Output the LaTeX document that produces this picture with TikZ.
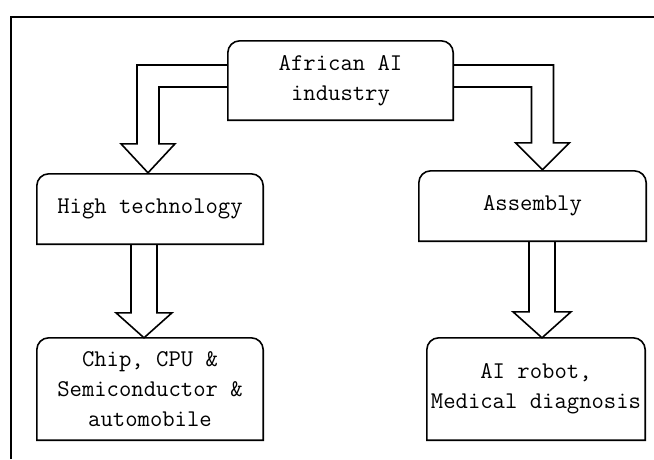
\documentclass[tikz,border=0pt]{standalone}
\usetikzlibrary{calc}
\begin{document}
\begin{tikzpicture}[x=1pt,y=-1pt,
  box/.style={inner sep=0pt, minimum width=#1, align=center,
    font=\ttfamily\fontsize{24}{30}\selectfont},
  ln/.style={line width=1.6pt, line join=miter},
  topround/.style={ln}]
\useasboundingbox (0,0) rectangle (654,459);
\fill[white] (0,0) rectangle (654,459);
% frame
\coordinate (fbl) at (11,459);
\coordinate (ftl) at (11,17);
\coordinate (ftr) at (654,17);
\draw[line width=1.2pt] (fbl) -- (ftl) -- (ftr);
% nodes (invisible, outlines drawn below)
\node[box=225pt, minimum height=79pt] (top) at (340.5,80.5) {African AI\\industry};
\node[box=226pt, minimum height=70pt] (high) at (150,209) {High technology};
\node[box=227pt, minimum height=70pt] (asm) at (532.5,206) {Assembly};
\node[box=226pt, minimum height=102pt] (chip) at (150,389) {Chip, CPU \&\\Semiconductor \&\\automobile};
\node[box=218pt, minimum height=102pt] (robot) at (536,389) {AI robot,\\Medical diagnosis};
% outlines with rounded top corners
\foreach \n in {top,high,asm,chip,robot}{
  \draw[ln] (\n.south west) -- ($(\n.north west)+(0,12)$)
    arc[start angle=180,end angle=90,radius=12pt]
    -- ($(\n.north east)+(-12,0)$)
    arc[start angle=90,end angle=0,radius=12pt]
    -- (\n.south east) -- cycle;
}
% tips
\coordinate (t1) at ($(high.north)+(-2,-1)$);
\coordinate (t2) at ($(asm.north)+(10,-1)$);
\coordinate (t3) at ($(chip.north)+(-6,0)$);
\coordinate (t4) at ($(robot.north)+(6,0)$);
% top-left hollow arrow
\draw[ln] ($(top.west)+(0,-15.5)$) -| ($(t1)+(-11,-29)$) -- ++(-16,0) -- (t1)
  -- ++(27,-29) -- ++(-16,0) |- ($(top.west)+(0,6.5)$);
% top-right hollow arrow
\draw[ln] ($(top.east)+(0,-15.5)$) -| ($(t2)+(11,-27)$) -- ++(16,0) -- (t2)
  -- ++(-27,-27) -- ++(16,0) |- ($(top.east)+(0,6.5)$);
% bottom-left hollow arrow
\draw[ln] ($(t3|-high.south)+(-13,0)$) |- ($(t3)+(-28,-25)$) -- (t3)
  -- ++(28,-25) -| ($(t3|-high.south)+(13,0)$);
% bottom-right hollow arrow
\draw[ln] ($(t4|-asm.south)+(-13,0)$) |- ($(t4)+(-29,-26)$) -- (t4)
  -- ++(29,-26) -| ($(t4|-asm.south)+(13,0)$);
\end{tikzpicture}
\end{document}
